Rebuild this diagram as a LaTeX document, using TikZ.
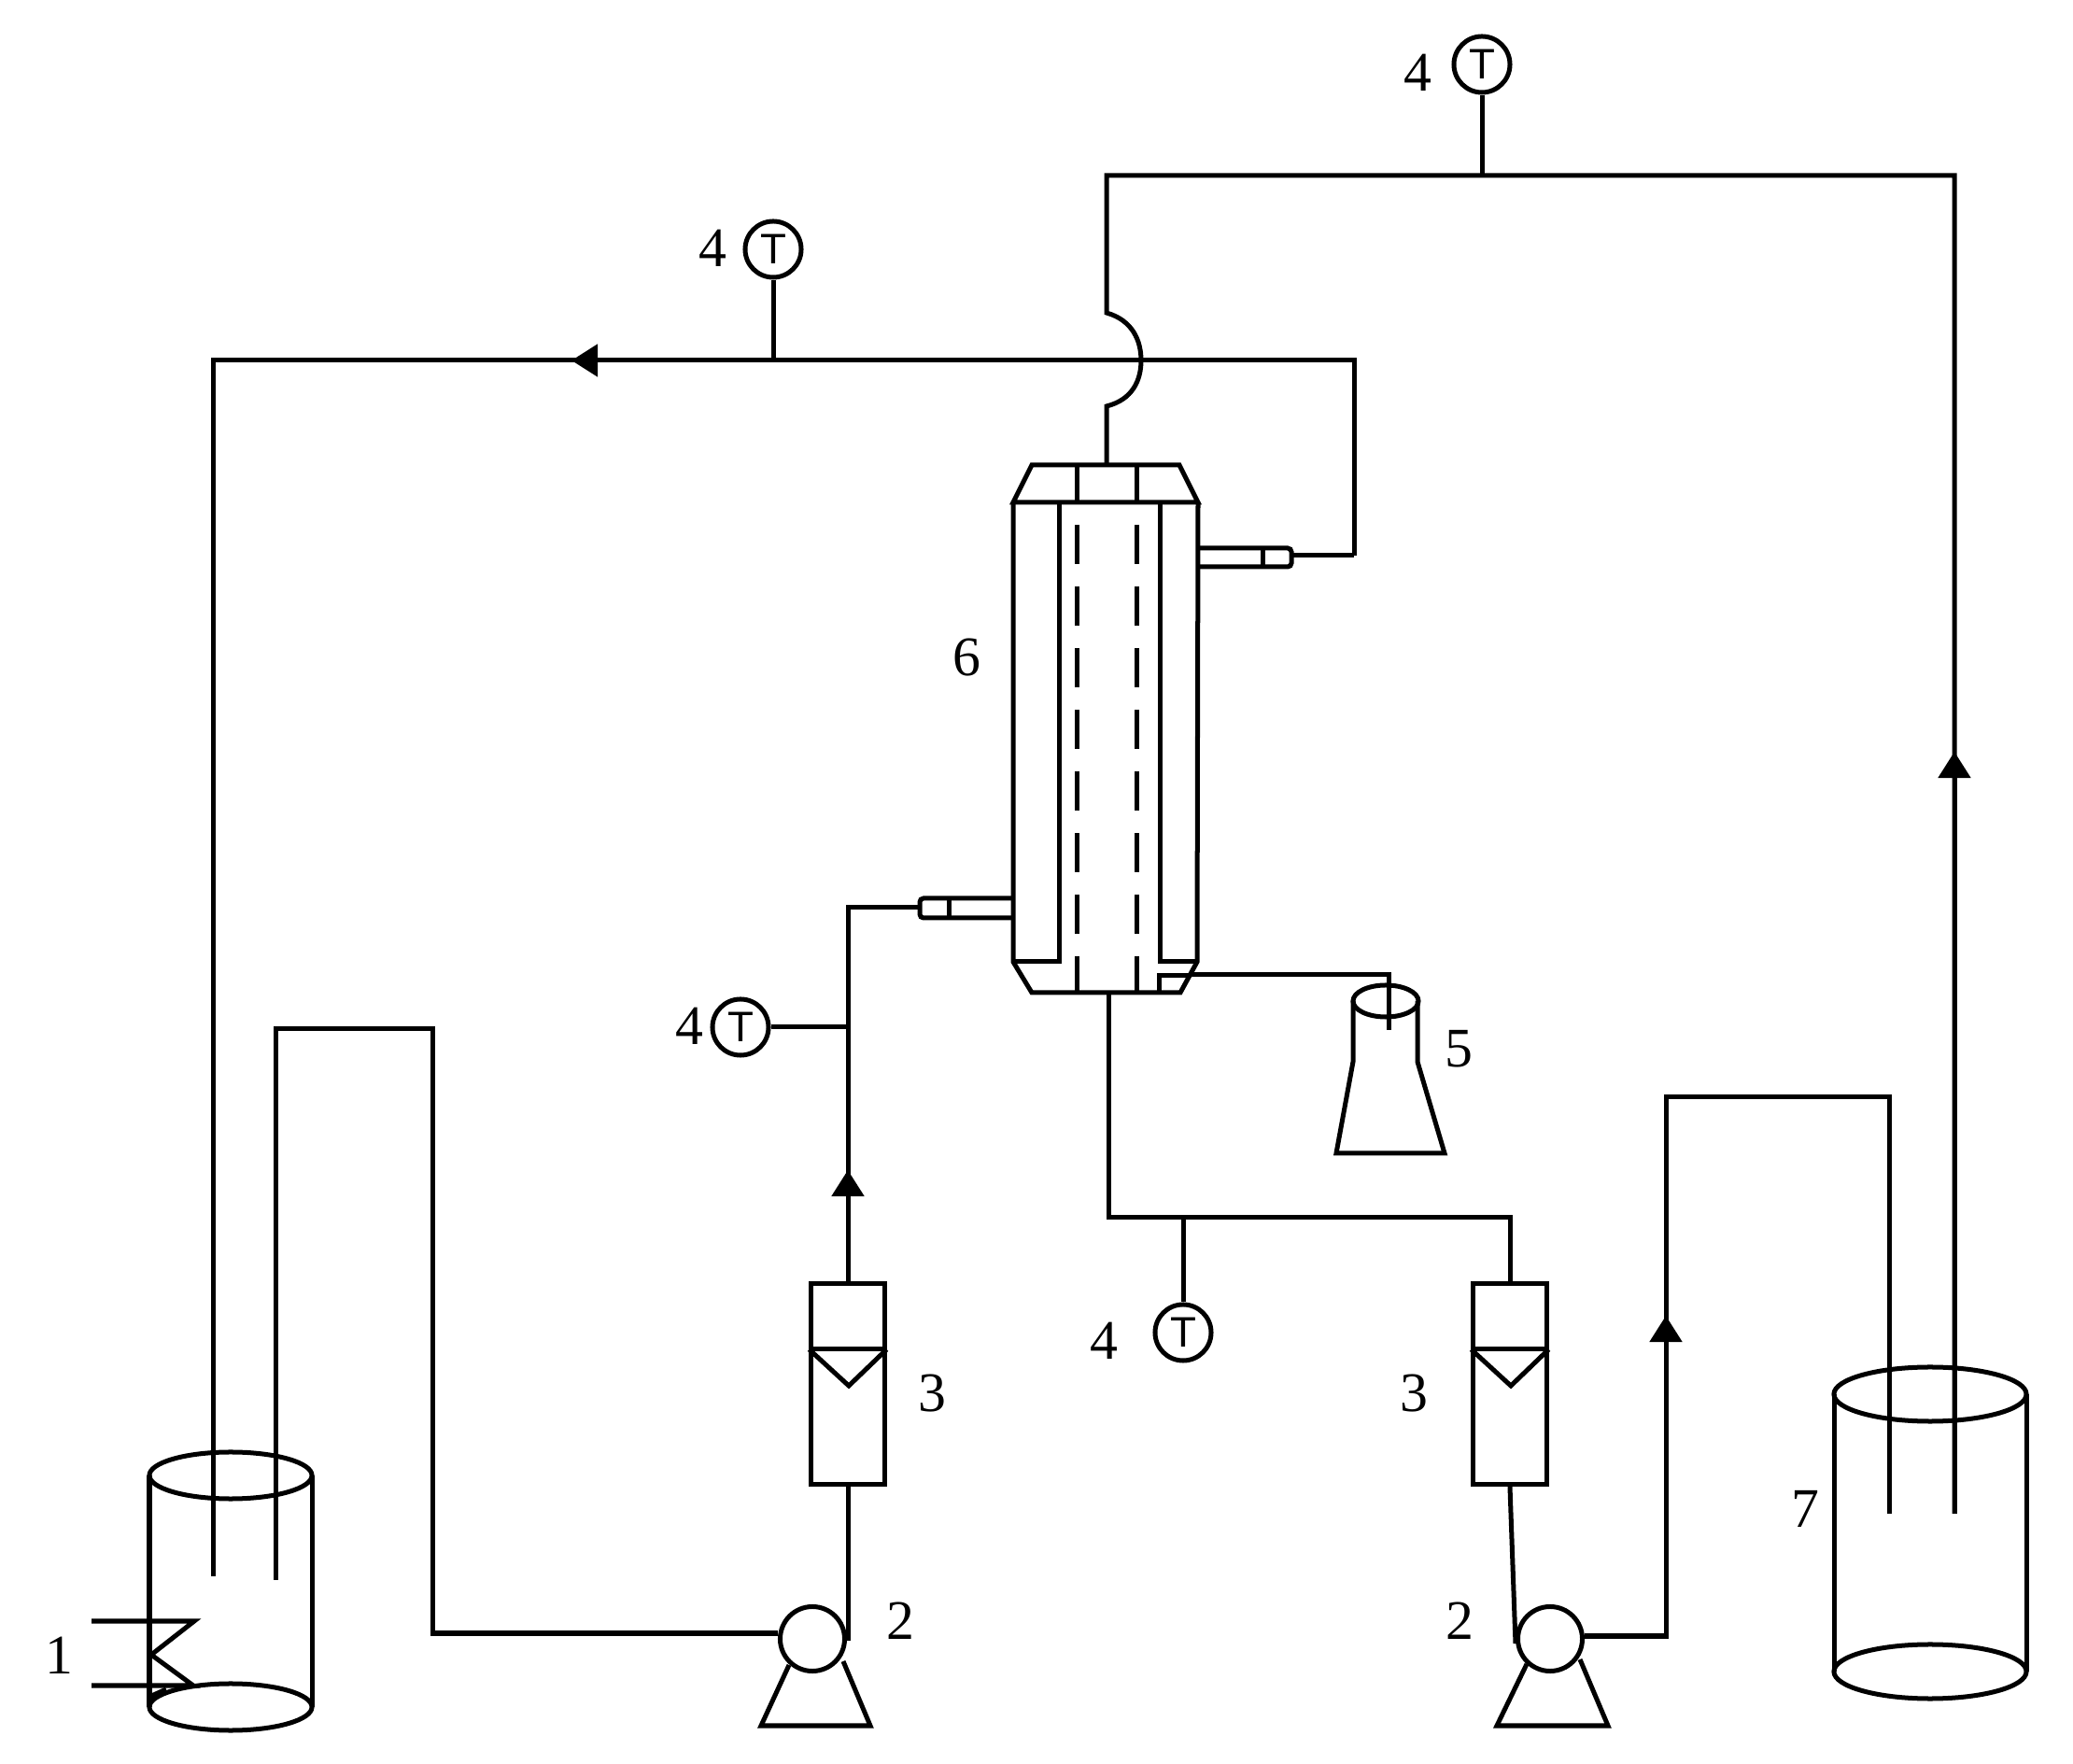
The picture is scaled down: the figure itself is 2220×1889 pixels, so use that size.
\documentclass[tikz,border=0pt]{standalone}
\usepackage{fontspec}
\setmainfont{Liberation Serif}
\setsansfont{Liberation Sans}
\usetikzlibrary{arrows.meta}

\begin{document}
\begin{tikzpicture}[
                > = {Triangle[length=0.28cm,width=0.34cm]}, % arrow head style
                x = 0.01cm, % one unit is one pixel of the drawing
                y = -0.01cm,
                line width = 0.05cm % line style
            ]

            \tikzstyle{thermo}=[
            draw = black,
            circle,
            inner sep = 0pt,
            minimum size = 0.60cm,
            font = \sffamily\fontsize{13}{13}\selectfont
            ]
            \tikzstyle{pump}=[
            draw = black,
            circle,
            minimum size = 0.69cm
            ]
            \tikzstyle{rotameter}=[
            draw = black,
            minimum width = 0.78cm,
            minimum height = 2.15cm
            ]
            \tikzstyle{tag}=[
            inner sep = 0pt,
            font = \fontsize{17}{20}\selectfont
            ]

            \useasboundingbox (0,0) rectangle (2220,1889);

            % instruments and pumps
            \node[thermo] (tout) at (1587,69) {T};
            \node[thermo] (tback) at (828,267) {T};
            \node[thermo] (tfeed) at (793,1100) {T};
            \node[thermo] (tperm) at (1267,1427) {T};
            \node[rotameter] (rota) at (908,1482) {};
            \node[rotameter] (rotb) at (1617,1482) {};
            \node[pump] (pumpa) at (870,1755) {};
            \node[pump] (pumpb) at (1660,1755) {};

            % bends and arrow tips of the pipes
            \coordinate (shelltop) at (1185,498);
            \coordinate (shellbot) at (1187,1063);
            \coordinate (jumpa) at (1185,435);
            \coordinate (jumpb) at (1185,335);
            \coordinate (jumpm) at (1222,386);
            \coordinate (coldtop) at (1185,188);
            \coordinate (coldend) at (2093,188);
            \coordinate (coldtip) at (2093,805);
            \coordinate (coldin) at (2093,1621);
            \coordinate (backr) at (1450,386);
            \coordinate (backn) at (1450,595);
            \coordinate (backtip) at (612,386);
            \coordinate (backl) at (228,386);
            \coordinate (backin) at (228,1688);
            \coordinate (suctin) at (295,1692);
            \coordinate (sucta) at (295,1102);
            \coordinate (suctb) at (463,1102);
            \coordinate (suctc) at (463,1749);
            \coordinate (feedtip) at (908,1253);
            \coordinate (feedt) at (908,1100);
            \coordinate (feedc) at (908,972);
            \coordinate (feedn) at (985,972);
            \coordinate (perma) at (1187,1304);
            \coordinate (permb) at (1617,1304);
            \coordinate (permt) at (1267,1304);
            \coordinate (tankc) at (1784,1752);
            \coordinate (tanktip) at (1784,1409);
            \coordinate (tankd) at (1784,1175);
            \coordinate (tanke) at (2023,1175);
            \coordinate (tankf) at (2023,1621);
            \coordinate (drain) at (1276,1044);
            \coordinate (draina) at (1487,1044);
            \coordinate (drainb) at (1487,1103);

            % column
            \draw (1085,538) -- (1105,498) -- (1263,498) -- (1283,538) -- cycle;
            \draw (1085,538) -- (1085,1030) -- (1105,1063) -- (1264,1063) -- (1282,1030) -- (1283,538);
            \draw (1134,538) -- (1134,1030) -- (1085,1030);
            \draw (1242,538) -- (1242,1030) -- (1282,1030);
            \draw (1241,1063) -- (1241,1045) -- (1276,1045);
            \draw (1153,498) -- (1153,538);
            \draw (1217,498) -- (1217,538);
            \draw[dash pattern=on 0.42cm off 0.24cm] (1153,562) -- (1153,1063);
            \draw[dash pattern=on 0.42cm off 0.24cm] (1217,562) -- (1217,1063);

            % nozzles
            \draw[rounded corners=0.04cm] (1283,587) -- (1383,587) -- (1383,607) -- (1283,607);
            \draw (1352,587) -- (1352,607);
            \draw[rounded corners=0.04cm] (1085,962) -- (985,962) -- (985,983) -- (1085,983);
            \draw (1016,962) -- (1016,983);

            % pipes
            \draw (shelltop) -- (jumpa) .. controls (1213,428) and (1222,407) .. (jumpm)
                .. controls (1222,365) and (1213,343) .. (jumpb) -- (coldtop) -- (coldend) -- (coldin);
            \draw[->] (coldin) -- (coldtip);
            \draw (backn) -- (1383,595);
            \draw (backn) -- (backr) -- (backl) -- (backin);
            \draw[->] (backr) -- (backtip);
            \draw (tout) -- (tout |- coldtop);
            \draw (tback) -- (tback |- backl);
            \draw (tfeed) -- (feedt);
            \draw (tperm) -- (permt);
            \draw (suctin) -- (sucta) -- (suctb) -- (suctc) -- (pumpa.west |- suctc);
            \draw (908,1757) -- (rota.south);
            \draw (rota.north) -- (feedc) -- (feedn);
            \draw[->] (rota.north) -- (feedtip);
            \draw (shellbot) -- (perma) -- (permb) -- (rotb.north);
            \draw (rotb.south) -- (1623,1760);
            \draw (pumpb.east |- tankc) -- (tankc) -- (tankd) -- (tanke) -- (tankf);
            \draw[->] (tankc) -- (tanktip);
            \draw (drain) -- (draina) -- (drainb);

            % rotameter floats
            \draw (rota.west |- 0,1445) -- (rota.east |- 0,1445);
            \draw (rota.west |- 0,1445) -- (909,1484) -- (rota.east |- 0,1445);
            \draw (rotb.west |- 0,1445) -- (rotb.east |- 0,1445);
            \draw (rotb.west |- 0,1445) -- (1618,1484) -- (rotb.east |- 0,1445);

            % pump feet
            \draw (845,1783) -- (815,1848) -- (932,1848) -- (903,1779);
            \draw (1635,1782) -- (1603,1848) -- (1722,1848) -- (1692,1777);

            % feed tank with heater
            \draw (247,1580) ellipse [x radius=0.87cm, y radius=0.25cm];
            \draw (247,1828) ellipse [x radius=0.87cm, y radius=0.25cm];
            \draw (160,1580) -- (160,1828);
            \draw (334,1580) -- (334,1828);
            \draw (98,1736) -- (208,1736) -- (162,1772) -- (207,1805) -- (98,1805);
            \draw (160,1817) -- (178,1809);

            % flask
            \draw (1484,1072) ellipse [x radius=0.35cm, y radius=0.17cm];
            \draw (1449,1072) -- (1449,1137) -- (1431,1235) -- (1547,1235) -- (1518,1137) -- (1518,1072);

            % permeate tank
            \draw (2067,1493) ellipse [x radius=1.03cm, y radius=0.29cm];
            \draw (2067,1790) ellipse [x radius=1.03cm, y radius=0.29cm];
            \draw (1964,1493) -- (1964,1790);
            \draw (2170,1493) -- (2170,1790);

            % labels
            \node[tag] (lone) at (63,1773) {1};
            \node[tag] (ltwoa) at (964,1736) {2};
            \node[tag] (ltwob) at (1563,1736) {2};
            \node[tag] (lthreea) at (998,1492) {3};
            \node[tag] (lthreeb) at (1514,1492) {3};
            \node[tag] (lfoura) at (1518,78) {4};
            \node[tag] (lfourb) at (763,266) {4};
            \node[tag] (lfourc) at (738,1099) {4};
            \node[tag] (lfourd) at (1182,1436) {4};
            \node[tag] (lfive) at (1562,1123) {5};
            \node[tag] (lsix) at (1035,704) {6};
            \node[tag] (lseven) at (1933,1616) {7};
        \end{tikzpicture}
\end{document}
